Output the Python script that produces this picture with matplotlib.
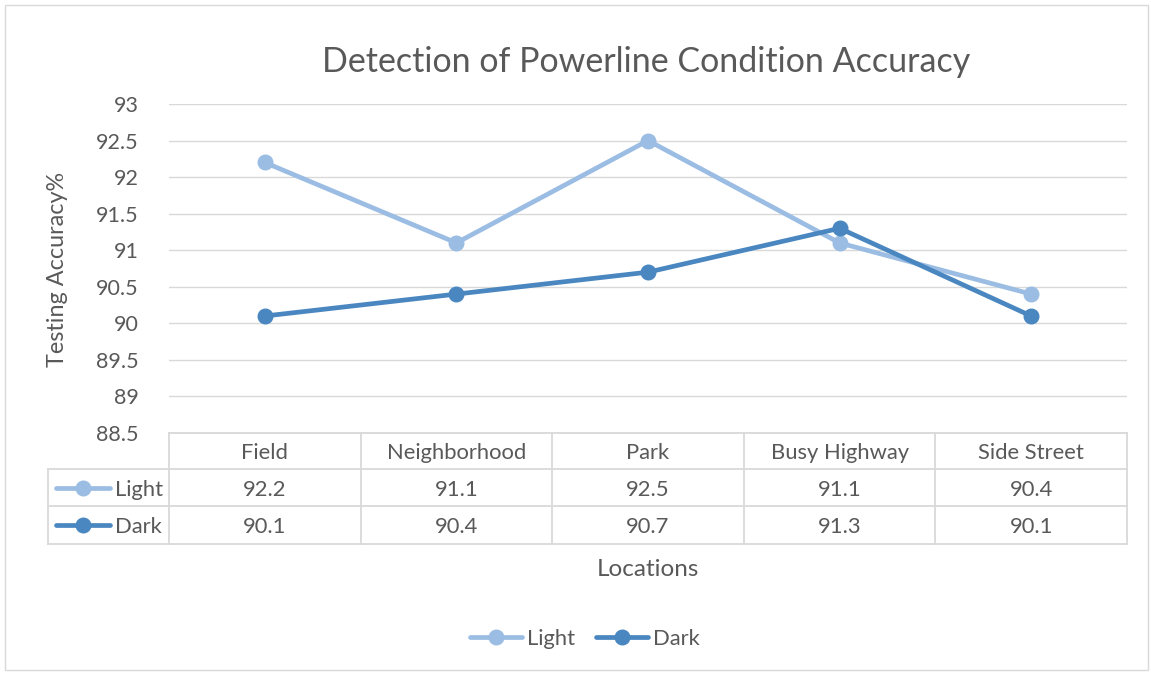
import matplotlib.pyplot as plt
from matplotlib.lines import Line2D

locations = ["Field", "Neighborhood", "Park", "Busy Highway", "Side Street"]
light = [92.2, 91.1, 92.5, 91.1, 90.4]
dark = [90.1, 90.4, 90.7, 91.3, 90.1]
yticks = [88.5, 89, 89.5, 90, 90.5, 91, 91.5, 92, 92.5, 93]

LIGHT_C = "#9bbde3"
DARK_C = "#4a87c0"
TXT = "#595959"
GRID = "#d9d9d9"

plt.rcParams['font.family'] = ['Lato', 'DejaVu Sans']

W, H = 1151, 674
fig = plt.figure(figsize=(W / 100, H / 100), dpi=100)


def fx(px):
    return px / W


def fy(py):
    return 1 - py / H


x0, x1 = 169, 1127
ytop, ybot = 104, 433
ax = fig.add_axes([fx(x0), fy(ybot), fx(x1) - fx(x0), fy(ytop) - fy(ybot)])

xs = list(range(len(locations)))
ax.plot(xs, light, color=LIGHT_C, lw=3.4, marker='o', ms=10.5, solid_capstyle='round', zorder=3)
ax.plot(xs, dark, color=DARK_C, lw=3.4, marker='o', ms=10.5, solid_capstyle='round', zorder=4)

ax.set_xlim(-0.5, len(locations) - 0.5)
ax.set_ylim(88.5, 93)
ax.set_yticks(yticks)
ax.set_yticklabels([f"{v:g}" for v in yticks], fontsize=15.5, color=TXT)
ax.set_xticks([])
ax.tick_params(axis='y', length=0, pad=22)
ax.grid(axis='y', color=GRID, lw=1)
ax.set_axisbelow(True)
for s in ax.spines.values():
    s.set_visible(False)

# title and axis labels
fig.text(fx(646), fy(62), "Detection of Powerline Condition Accuracy", ha='center', va='center',
         fontsize=24.5, color=TXT)
fig.text(fx(57), fy(269), "Testing Accuracy%", ha='center', va='center', rotation=90,
         fontsize=16.8, color=TXT)
fig.text(fx(648), fy(570), "Locations", ha='center', va='center', fontsize=17.5, color=TXT)

# data table
col_w = (x1 - x0) / len(locations)
rows_y = [433, 469, 506, 544]
lc = dict(color=GRID, lw=1.3, transform=fig.transFigure)
fig.add_artist(Line2D([fx(x0), fx(x1)], [fy(433), fy(433)], **lc))
for yy in rows_y[1:]:
    fig.add_artist(Line2D([fx(48), fx(x1)], [fy(yy), fy(yy)], **lc))
fig.add_artist(Line2D([fx(48), fx(48)], [fy(469), fy(544)], **lc))
for i in range(len(locations) + 1):
    xx = x0 + i * col_w
    fig.add_artist(Line2D([fx(xx), fx(xx)], [fy(433), fy(544)], **lc))

for i, name in enumerate(locations):
    cx = x0 + (i + 0.5) * col_w
    fig.text(fx(cx), fy(453), name, ha='center', va='center', fontsize=15.8, color=TXT)
    fig.text(fx(cx), fy(490), f"{light[i]:g}", ha='center', va='center', fontsize=15.8, color=TXT)
    fig.text(fx(cx), fy(527), f"{dark[i]:g}", ha='center', va='center', fontsize=15.8, color=TXT)

for label, c, yy in [("Light", LIGHT_C, 488), ("Dark", DARK_C, 525)]:
    fig.add_artist(Line2D([fx(56), fx(110)], [fy(yy), fy(yy)], color=c, lw=3.4,
                          solid_capstyle='round', transform=fig.transFigure))
    fig.add_artist(Line2D([fx(83)], [fy(yy)], color=c, marker='o', ms=10.5, transform=fig.transFigure))
    fig.text(fx(115), fy(yy + 2), label, ha='left', va='center', fontsize=15.8, color=TXT)

# legend
for label, c, lx in [("Light", LIGHT_C, 470), ("Dark", DARK_C, 596)]:
    fig.add_artist(Line2D([fx(lx), fx(lx + 52)], [fy(637), fy(637)], color=c, lw=3.4,
                          solid_capstyle='round', transform=fig.transFigure))
    fig.add_artist(Line2D([fx(lx + 26)], [fy(637)], color=c, marker='o', ms=10.5, transform=fig.transFigure))
    fig.text(fx(lx + 57), fy(639), label, ha='left', va='center', fontsize=15.8, color=TXT)

# chart border
fig.add_artist(plt.Rectangle((fx(5), fy(670)), fx(1143), fy(5) - fy(670), fill=False,
                             edgecolor=GRID, lw=1, transform=fig.transFigure))

fig.savefig("out.png", dpi=100)
